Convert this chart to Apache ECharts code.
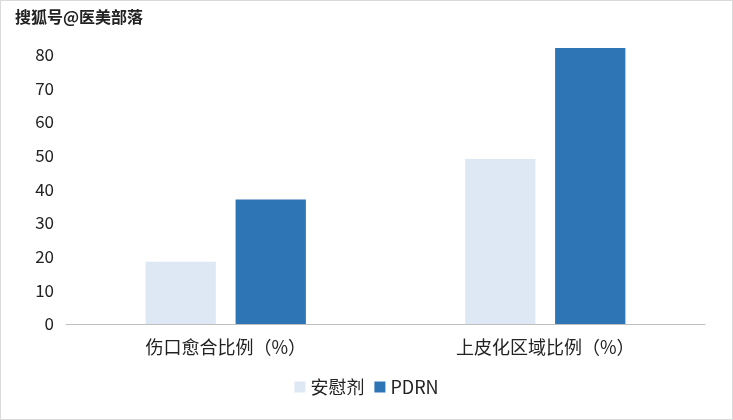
<!DOCTYPE html>
<html><head><meta charset="utf-8">
<script src="https://cdn.jsdelivr.net/npm/echarts@6/dist/echarts.min.js"></script>
<style>html,body{margin:0;padding:0;background:#fff}#c{width:733px;height:420px;box-sizing:border-box;border:1px solid #d9d9d9}</style>
</head><body><div id="c"></div>
<script>
const categories = ['伤口愈合比例（%）', '上皮化区域比例（%）'];
const placebo = [18.5, 49];
const pdrn = [37, 82];
const seriesNames = ['安慰剂', 'PDRN'];
const chart = echarts.init(document.getElementById('c'));
const font = '"Microsoft YaHei","Noto Sans CJK SC",sans-serif';
chart.setOption({
  animation: false,
  textStyle: {fontFamily: font},
  grid: {left: 65, right: 27, top: 20, bottom: 95},
  legend: {bottom: 18, left: 'center', itemWidth: 11, itemHeight: 11, itemGap: 10,
    textStyle: {fontSize: 18, color: '#222', fontFamily: font}, icon: 'rect', data: seriesNames},
  xAxis: {type: 'category', data: categories,
    axisLine: {lineStyle: {color: '#bfbfbf'}}, axisTick: {show: false},
    axisLabel: {fontSize: 18, color: '#222', margin: 14, fontFamily: font}},
  yAxis: {type: 'value', min: 0, max: 90, interval: 10,
    splitLine: {show: false}, axisLine: {show: false}, axisTick: {show: false},
    axisLabel: {fontSize: 17, color: '#222', margin: 12, fontFamily: font}},
  series: [
    {name: seriesNames[0], type: 'bar', data: placebo, barWidth: '22%', barGap: '28%', itemStyle: {color: '#DEE8F4'}},
    {name: seriesNames[1], type: 'bar', data: pdrn, barWidth: '22%', itemStyle: {color: '#2E75B6'}}
  ],
  graphic: [{type: 'text', left: 12, top: 6, z: 100,
    style: {text: '搜狐号@医美部落', fontSize: 16, fontWeight: 'bold', fill: '#222',
      backgroundColor: '#fff', padding: [2, 4, 6, 2], fontFamily: font}}]
});
</script></body></html>
